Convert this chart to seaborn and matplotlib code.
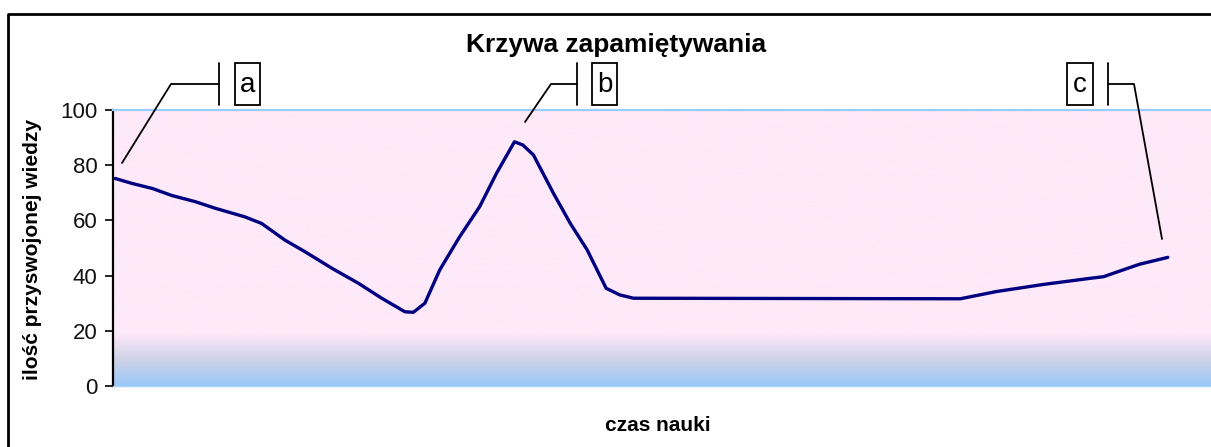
import numpy as np
import matplotlib
matplotlib.use("Agg")
import matplotlib.pyplot as plt
from matplotlib.lines import Line2D
from matplotlib.patches import Rectangle
import seaborn as sns

# ===============================
# Data
# ===============================
czas = [0, 1.6, 3.5, 5.4, 7.6, 9.5, 12.3, 13.9, 16.1, 18.0, 20.6, 23.1, 25.3,
        27.5, 28.3, 29.4, 30.8, 32.7, 34.6, 36.2, 37.9, 38.7, 39.7, 41.6, 43.2,
        44.8, 46.6, 47.9, 49.2, 80.2, 83.6, 88.1, 92.5, 93.8, 95.0, 97.2, 99.9]
wiedza = [75.2, 73.4, 71.6, 69.0, 66.8, 64.4, 61.3, 58.9, 52.9, 48.7, 42.6,
          37.2, 31.8, 26.9, 26.7, 30.0, 42.0, 54.1, 65.0, 77.1, 88.5, 87.3,
          83.7, 69.8, 58.9, 49.3, 35.4, 33.0, 31.8, 31.6, 34.2, 36.8, 39.0,
          39.6, 41.2, 44.1, 46.6]
y_ticks = [0, 20, 40, 60, 80, 100]
etykiety = ["a", "b", "c"]

title = "Krzywa zapamiętywania"
xlabel = "czas nauki"
ylabel = "ilość przyswojonej wiedzy"

# ===============================
# Figure
# ===============================
sns.set_theme(style="white")
plt.rcParams["font.family"] = ["Liberation Sans", "DejaVu Sans"]
plt.rcParams["text.color"] = "black"

W, H = 1211, 447
fig = plt.figure(figsize=(W / 100, H / 100), dpi=100)


def fx(x):
    return x / W


def fy(y):
    return 1 - y / H


ax = fig.add_axes([fx(113), fy(386), fx(1211) - fx(113), fy(110) - fy(386)])

# background: pink with a blue fade at the bottom
grad_v = np.linspace(0, 100, 400)
pink = np.array([253, 233, 249]) / 255
mid = np.array([205, 210, 232]) / 255
blue = np.array([152, 200, 248]) / 255
cols = np.zeros((len(grad_v), 1, 3))
for i, v in enumerate(grad_v):
    if v >= 19:
        c = pink
    elif v >= 9:
        t = (19 - v) / 10
        c = pink * (1 - t) + mid * t
    else:
        t = (9 - v) / 9
        c = mid * (1 - t) + blue * t
    cols[i, 0] = c
ax.imshow(cols, extent=[-0.2, 104, 0, 100], origin="lower", aspect="auto", zorder=0)

sns.lineplot(x=czas, y=wiedza, ax=ax, color="#000080", linewidth=2.4, sort=False, zorder=3)

ax.set_xlim(-0.2, 104)
ax.set_ylim(0, 100)
ax.set_yticks(y_ticks)
ax.set_xticks([])
ax.tick_params(axis="y", direction="out", length=6, width=1.2, color="black",
               labelsize=16, pad=5, left=True, labelcolor="#111111")
ax.set_xlabel("")
ax.set_ylabel("")
ax.spines["left"].set_color("black")
ax.spines["left"].set_linewidth(1.6)
ax.spines["top"].set_color("#99ccff")
ax.spines["top"].set_linewidth(1.6)
ax.spines["bottom"].set_color("#a8d2fa")
ax.spines["bottom"].set_linewidth(1.0)
ax.spines["right"].set_visible(False)

# texts
fig.text(fx(616), fy(52), title, ha="center", va="baseline", fontsize=19, fontweight="bold")
fig.text(fx(658), fy(431), xlabel, ha="center", va="baseline", fontsize=15, fontweight="bold")
fig.text(fx(33), fy(250), ylabel, ha="center", va="center", rotation=90, fontsize=15, fontweight="bold")

# outer chart border (cropped on the right and bottom)
fig.add_artist(Line2D([fx(8), fx(8), fx(1212)], [fy(448), fy(14), fy(14)],
                      transform=fig.transFigure, color="black", linewidth=2))

# callouts
callouts = [
    ([122, 171, 219], [163, 84, 84], 219, (235, 260)),
    ([525, 551, 577], [122, 84, 84], 577, (592, 617)),
    ([1162, 1134, 1108], [239, 84, 84], 1108, (1067, 1093)),
]
for lab, (lx, ly, bar_x, (bx0, bx1)) in zip(etykiety, callouts):
    fig.add_artist(Line2D([fx(v) for v in lx], [fy(v) for v in ly],
                          transform=fig.transFigure, color="black", linewidth=1.3))
    fig.add_artist(Line2D([fx(bar_x), fx(bar_x)], [fy(63), fy(105)],
                          transform=fig.transFigure, color="black", linewidth=1.3))
    fig.add_artist(Rectangle((fx(bx0), fy(105)), fx(bx1) - fx(bx0), fy(63) - fy(105),
                             transform=fig.transFigure, fill=False,
                             edgecolor="black", linewidth=1.3))
    fig.text(fx((bx0 + bx1) / 2), fy(85), lab, ha="center", va="center", fontsize=20)

fig.savefig("out.png", dpi=100)
plt.close(fig)
